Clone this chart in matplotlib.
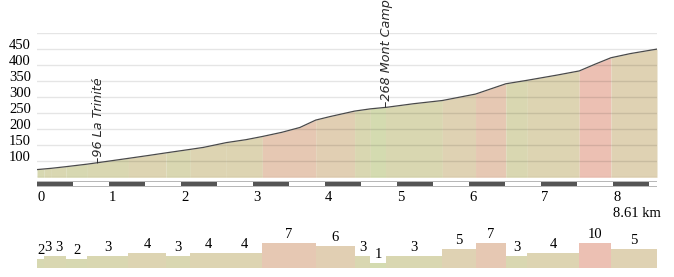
import numpy as np
import matplotlib
matplotlib.use("Agg")
import matplotlib.pyplot as plt

# ---------------- data ----------------
dist_km = [0.00, 0.10, 0.20, 0.40, 0.70, 0.86, 1.27, 1.55, 1.79, 2.13, 2.31, 2.63,
           2.90, 3.13, 3.40, 3.65, 3.87, 4.07, 4.41, 4.63, 4.86, 5.23, 5.63,
           6.09, 6.30, 6.51, 6.81, 7.22, 7.53, 7.75, 7.97, 8.24, 8.61]
elev_m = [74, 76, 78, 83, 91, 96, 109, 118, 126, 137, 143, 158,
          167, 177, 190, 205, 228, 239, 256, 263, 268, 279, 289,
          309, 325, 341, 352, 368, 381, 402, 422, 435, 449]

seg_bounds = [0.00, 0.10, 0.20, 0.40, 0.70, 1.27, 1.79, 2.13, 2.63, 3.13, 3.87,
              4.41, 4.63, 4.84, 5.63, 6.09, 6.51, 6.81, 7.53, 7.97, 8.61]
seg_grades = [2, 3, 3, 2, 3, 4, 3, 4, 4, 7, 6, 3, 1, 3, 5, 7, 3, 4, 10, 5]

places_km = [0.86, 4.86]
places_elev = [96, 268]
places_name = ["La Trinité", "Mont Camp"]

y_ticks = [100, 150, 200, 250, 300, 350, 400, 450]
x_ticks = [0, 1, 2, 3, 4, 5, 6, 7, 8]
total_km = 8.61

grade_colors = {
    1: "#d4dbb0", 2: "#d7d8b1", 3: "#d9d7b1", 4: "#ddd4b2", 5: "#dfd2b3",
    6: "#e1cfb3", 7: "#e6c8b3", 10: "#ecc0b3",
}

# ---------------- layout ----------------
W, H = 674, 277
fig = plt.figure(figsize=(W / 100, H / 100), dpi=100)

def rect(x0, x1, ytop, ybot):
    return [x0 / W, 1 - ybot / H, (x1 - x0) / W, (ybot - ytop) / H]

serif = "Liberation Serif"
fs = 10.5

# main profile axes
ax = fig.add_axes(rect(37, 657, 32.7, 177.3))
ax.set_xlim(0, total_km)
ax.set_ylim(50, 500)
for s in ax.spines.values():
    s.set_visible(False)

xs = np.array(dist_km)
ys = np.array(elev_m)
for a, b, g in zip(seg_bounds[:-1], seg_bounds[1:], seg_grades):
    inner = xs[(xs > a) & (xs < b)]
    px = np.concatenate([[a], inner, [b]])
    py = np.interp(px, xs, ys)
    ax.fill_between(px, py, 50, color=grade_colors[g], lw=0, zorder=1)

for v in range(50, 501, 50):
    ax.axhline(v, color="black", alpha=0.1, lw=1.0, zorder=2)

ax.plot(xs, ys, color="#4a4a4a", lw=0.9, zorder=3)

ax.set_yticks(y_ticks)
ax.set_yticklabels([str(v) for v in y_ticks], fontfamily=serif, fontsize=fs)
for lbl in ax.get_yticklabels():
    lbl.set_verticalalignment("baseline")
ax.tick_params(axis="y", length=0, pad=4.5)

ax.set_xticks(x_ticks)
ax.set_xticklabels([str(v) for v in x_ticks], fontfamily=serif, fontsize=fs)
for lbl in ax.get_xticklabels():
    lbl.set_horizontalalignment("left")
ax.tick_params(axis="x", length=0, pad=10.0)

ax.annotate(f"{total_km} km", xy=(8, 0), xycoords=("data", "axes fraction"),
            xytext=(0, -21.2), textcoords="offset points", ha="left", va="top",
            fontfamily=serif, fontsize=fs)

for k, e, n in zip(places_km, places_elev, places_name):
    ax.text(k, e, f"–{e} {n}", rotation=90, rotation_mode="anchor",
            ha="left", va="center", fontfamily="DejaVu Sans",
            fontstyle="italic", fontsize=9.2, color="#2a2a2a", clip_on=False,
            zorder=5)

# scale bar
sax = fig.add_axes(rect(37, 657, 181.4, 186.6))
sax.set_xlim(0, total_km)
sax.set_ylim(0, 1)
sax.axis("off")
sax.axhspan(0.0, 1.0, color="#b8b8b8", lw=0)
sax.axhspan(0.2, 0.8, color="white", lw=0)
k = 0.0
while k < total_km:
    sax.axvspan(k, min(k + 0.5, total_km), 0.15, 0.82, color="#555555", lw=0)
    k += 1.0

# gradient bars
bax = fig.add_axes(rect(37, 657, 239.4, 267.7))
bax.set_xlim(0, total_km)
bax.set_ylim(-0.5, 8)
bax.axis("off")
starts = np.array(seg_bounds[:-1])
widths = np.diff(seg_bounds)
heights = np.minimum(np.array(seg_grades), 7)
bax.bar(starts, heights + 0.5, width=widths, bottom=-0.5, align="edge",
        color=[grade_colors[g] for g in seg_grades], lw=0)
for s0, w, h, g in zip(starts, widths, heights, seg_grades):
    bax.annotate(str(g), xy=(s0 + w / 2, h), xytext=(0, 3.6),
                 textcoords="offset points", ha="center", va="baseline",
                 fontfamily=serif, fontsize=fs, annotation_clip=False)

fig.savefig("out.png", dpi=100)
